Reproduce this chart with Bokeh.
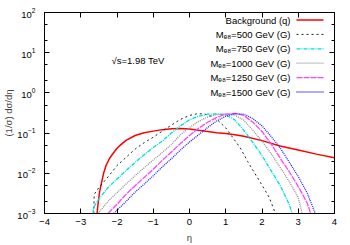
from bokeh.plotting import figure
from bokeh.models import LogAxis, LinearAxis, FixedTicker, Label, Arrow, Range1d, LogTickFormatter
from bokeh.embed import file_html
from bokeh.resources import INLINE

# ---- data ----
eta_bg = [-2.55, -2.52, -2.48, -2.43, -2.37, -2.3, -2.2, -2.1, -2.0, -1.9, -1.75, -1.5, -1.25,
          -1.0, -0.75, -0.5, -0.25, 0.0, 0.25, 0.5, 0.75, 1.0, 1.25, 1.5, 2.0, 2.5, 3.0, 3.5, 4.0]
bg = [0.001, 0.0018, 0.0035, 0.0056, 0.010, 0.0158, 0.024, 0.032, 0.042, 0.051, 0.066, 0.087, 0.102,
      0.112, 0.122, 0.128, 0.130, 0.126, 0.117, 0.110, 0.102, 0.098, 0.091, 0.083, 0.065, 0.048, 0.038, 0.030, 0.0245]

eta_500 = [-2.64, -2.63, -2.5, -2.25, -2.0, -1.75, -1.5, -1.25, -1.0, -0.75, -0.5, -0.25, 0.0,
           0.2, 0.4, 0.6, 0.8, 1.0, 1.2, 1.4, 1.6, 1.8, 2.0, 2.2, 2.37]
m500 = [0.001, 0.0030, 0.0044, 0.0081, 0.0155, 0.025, 0.040, 0.058, 0.079, 0.112, 0.158, 0.219, 0.275,
        0.302, 0.302, 0.263, 0.200, 0.135, 0.076, 0.043, 0.020, 0.010, 0.0051, 0.0025, 0.001]

eta_750 = [-2.66, -2.65, -2.5, -2.25, -2.0, -1.75, -1.5, -1.25, -1.0, -0.75, -0.5, -0.25, 0.0,
           0.25, 0.5, 0.75, 1.0, 1.25, 1.5, 1.75, 2.0, 2.25, 2.5, 2.75, 2.83]
m750 = [0.001, 0.0014, 0.0023, 0.0044, 0.0072, 0.0117, 0.0186, 0.029, 0.044, 0.063, 0.100, 0.151, 0.214,
        0.263, 0.295, 0.302, 0.282, 0.214, 0.117, 0.058, 0.0275, 0.0117, 0.0050, 0.0017, 0.001]

eta_1000 = [-2.52, -2.25, -2.0, -1.75, -1.5, -1.25, -1.0, -0.75, -0.5, -0.25, 0.0, 0.25, 0.5,
            0.75, 1.0, 1.25, 1.5, 1.75, 2.0, 2.25, 2.5, 2.75, 3.0, 3.11]
m1000 = [0.001, 0.0020, 0.0033, 0.0054, 0.0087, 0.0138, 0.0214, 0.033, 0.052, 0.091, 0.138, 0.195, 0.251,
         0.288, 0.302, 0.282, 0.209, 0.117, 0.063, 0.031, 0.0141, 0.0063, 0.0025, 0.001]

eta_1250 = [-2.25, -2.0, -1.75, -1.5, -1.25, -1.0, -0.75, -0.5, -0.25, 0.0, 0.25, 0.5, 0.75,
            1.0, 1.25, 1.5, 1.75, 2.0, 2.25, 2.5, 2.75, 3.0, 3.25, 3.34]
m1250 = [0.001, 0.0017, 0.0030, 0.0049, 0.0079, 0.0126, 0.021, 0.034, 0.055, 0.087, 0.132, 0.186, 0.245,
         0.295, 0.309, 0.275, 0.186, 0.110, 0.054, 0.024, 0.011, 0.0047, 0.0018, 0.001]

eta_1500 = [-2.09, -2.0, -1.75, -1.5, -1.25, -1.0, -0.75, -0.5, -0.25, 0.0, 0.25, 0.5, 0.75,
            1.0, 1.25, 1.5, 1.75, 2.0, 2.25, 2.5, 2.75, 3.0, 3.25, 3.47]
m1500 = [0.001, 0.0012, 0.0020, 0.0034, 0.0054, 0.0087, 0.0145, 0.023, 0.038, 0.060, 0.091, 0.138, 0.200,
         0.263, 0.302, 0.295, 0.229, 0.151, 0.083, 0.043, 0.019, 0.0083, 0.0032, 0.001]

x_ticks = [-4, -3, -2, -1, 0, 1, 2, 3, 4]
y_ticks = [1e-3, 1e-2, 1e-1, 1e0, 1e1, 1e2]
y_minor = [2e-3, 5e-3, 2e-2, 5e-2, 2e-1, 5e-1, 2e0, 5e0, 2e1, 5e1]

labels = ["Background (q)", "M\u2091\u2088=500 GeV (G)", "M\u2091\u2088=750 GeV (G)",
          "M\u2091\u2088=1000 GeV (G)", "M\u2091\u2088=1250 GeV (G)", "M\u2091\u2088=1500 GeV (G)"]

FONT = "Liberation Sans"
FS = "9.5px"

series = [
    (eta_bg, bg, "#ff0000", None, 1.5),
    (eta_500, m500, "#222222", "2 3", 1.0),
    (eta_750, m750, "#00dddd", "4 1 1 1", 1.3),
    (eta_1000, m1000, "#909090", "1 1", 1.3),
    (eta_1250, m1250, "#ff44ff", "6 1", 1.3),
    (eta_1500, m1500, "#2222ff", "1 1", 1.3),
]

p = figure(width=342, height=245, y_axis_type="log",
           x_range=Range1d(-4, 4), y_range=Range1d(1e-3, 1e2),
           output_backend="svg", toolbar_location=None,
           min_border_left=43, min_border_right=8, min_border_top=12, min_border_bottom=29)
p.xgrid.visible = False
p.ygrid.visible = False
p.outline_line_color = "black"
p.outline_line_width = 1
p.background_fill_color = "white"
p.border_fill_color = "white"

xt = FixedTicker(ticks=x_ticks, minor_ticks=[])
yt = FixedTicker(ticks=y_ticks, minor_ticks=y_minor)

def style_axis(ax, show_labels=True):
    ax.axis_line_color = "black"
    ax.major_tick_in = 5
    ax.major_tick_out = 0
    ax.minor_tick_in = 3
    ax.minor_tick_out = 0
    ax.major_tick_line_color = "black"
    ax.minor_tick_line_color = "black"
    if show_labels:
        ax.major_label_text_font = FONT
        ax.major_label_text_font_size = FS
        ax.major_label_text_color = "black"
    else:
        ax.major_label_text_font_size = "0px"
        ax.major_label_text_color = None
        ax.major_label_standoff = 0

xa = p.xaxis[0]
xa.ticker = xt
style_axis(xa)
xa.major_label_standoff = 5
xa.axis_label = "η"
xa.axis_label_text_font = FONT
xa.axis_label_text_font_size = FS
xa.axis_label_text_font_style = "normal"
xa.axis_label_standoff = 4

ya = p.yaxis[0]
ya.ticker = yt
ya.formatter = LogTickFormatter()
style_axis(ya)
ya.major_label_standoff = 9
ya.axis_label = "(1/σ) dσ/dη"
ya.axis_label_text_font = FONT
ya.axis_label_text_font_size = FS
ya.axis_label_text_font_style = "normal"
ya.axis_label_standoff = 0

ra = LogAxis(ticker=yt)
style_axis(ra, show_labels=False)
p.add_layout(ra, "right")
ta = LinearAxis(ticker=xt)
style_axis(ta, show_labels=False)
p.add_layout(ta, "above")

for xs, ys, col, dash, w in series:
    kw = dict(line_color=col, line_width=w)
    if dash:
        kw["line_dash"] = dash
    p.line(xs, ys, **kw)

# legend (gnuplot style: text right-aligned, sample to the right)
for i, ((xs, ys, col, dash, w), lab) in enumerate(zip(series, labels)):
    yy = 193.5 - 14.4 * i
    p.add_layout(Label(x=246, y=yy, x_units="screen", y_units="screen", text=lab,
                       text_align="right", text_baseline="middle",
                       text_font=FONT, text_font_size=FS, text_color="black"))
    kw = dict(line_color=col, line_width=w)
    if dash:
        kw["line_dash"] = dash
    p.add_layout(Arrow(end=None, x_start=252, y_start=yy, x_end=279, y_end=yy,
                       start_units="screen", end_units="screen", **kw))

p.add_layout(Label(x=67, y=153, x_units="screen", y_units="screen", text="√s=1.98 TeV",
                   text_align="left", text_baseline="middle",
                   text_font=FONT, text_font_size=FS, text_color="black"))

open("out.html", "w").write(file_html(p, INLINE))
